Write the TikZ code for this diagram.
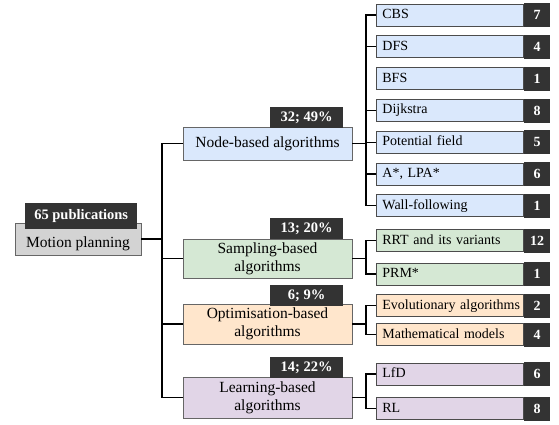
\documentclass[tikz,border=0pt]{standalone}
\usepackage{fontspec}
\setmainfont{Liberation Serif}
\usepackage{xcolor}
\usetikzlibrary{positioning}
\definecolor{nodefill}{HTML}{DAE8FC}
\definecolor{samplefill}{HTML}{D5E8D4}
\definecolor{optfill}{HTML}{FFE6CC}
\definecolor{learnfill}{HTML}{E1D5E7}
\definecolor{rootfill}{HTML}{D3D3D3}
\definecolor{tagfill}{HTML}{333333}

\begin{document}
\begin{tikzpicture}[x=1pt,y=-1pt,
  cat/.style={draw=black!60,line width=0.8pt,minimum width=169pt,minimum height=40pt,
    align=center,inner sep=0pt,font=\fontsize{15.5}{18}\selectfont},
  tag/.style={fill=tagfill,text=white,inner sep=0pt,minimum width=73pt,minimum height=21pt,
    font=\fontsize{14.5}{16}\selectfont\bfseries},
  leaf/.style={draw=black!70,line width=0.8pt,anchor=west,inner xsep=0pt,inner ysep=0pt,
    text width=147pt,minimum height=22pt,text height=10pt,text depth=3pt,align=left,
    execute at begin node={\hskip6pt},font=\fontsize{14}{16}\selectfont},
  num/.style={fill=tagfill,text=white,inner sep=0pt,minimum width=26pt,minimum height=24pt,
    anchor=south west,yshift=-1pt,font=\fontsize{14}{16}\selectfont\bfseries},
  link/.style={line width=1.3pt}]
\useasboundingbox (0,0) rectangle (559,424);

% root
\node[draw=black!60,line width=0.8pt,fill=rootfill,minimum width=126pt,minimum height=32pt,
  inner sep=0pt,text height=18pt,text depth=2pt,font=\fontsize{15.5}{18}\selectfont]
  (root) at (78,239) {Motion planning};
\node[tag,minimum width=112pt,minimum height=26pt,above left=-7pt and 4pt of root.north east]
  (roottag) {65 publications};

% categories
\node[cat,fill=nodefill,minimum height=33pt] (nb) at (267.5,143.5) {Node-based algorithms};
\node[cat,fill=samplefill,minimum height=39pt] (sb) at (267.5,258.5) {Sampling-based\\algorithms};
\node[cat,fill=optfill] (ob) at (267.5,324) {Optimisation-based\\algorithms};
\node[cat,fill=learnfill,minimum height=41pt] (lb) at (267.5,397.5) {Learning-based\\algorithms};
\node[tag,above left=-2pt and 9pt of nb.north east] (nbtag) {32; 49\%};
\node[tag,above left=-1pt and 9pt of sb.north east] (sbtag) {13; 20\%};
\node[tag,above left=-3pt and 9pt of ob.north east] (obtag) {6; 9\%};
\node[tag,above left=-2pt and 9pt of lb.north east] (lbtag) {14; 22\%};

% leaves
\foreach \name/\txt/\n [count=\i from 0] in
  {cbs/CBS/7, dfs/DFS/4, bfs/BFS/1, dijkstra/Dijkstra/8, pfield/Potential field/5,
   astar/{A*, LPA*}/6, wall/Wall-following/1}
{
  \node[leaf,fill=nodefill] (\name) at (376,{15+31.8*\i}) {\txt};
  \node[num] (\name-n) at (\name.south east) {\n};
}
\foreach \name/\txt/\n/\y/\col in
  {rrt/RRT and its variants/12/240.5/samplefill, prm/PRM*/1/274/samplefill,
   evo/Evolutionary algorithms/2/305.5/optfill, math/Mathematical models/4/334.5/optfill,
   lfd/LfD/6/374/learnfill, rl/RL/8/408.5/learnfill}
{
  \node[leaf,fill=\col] (\name) at (376,\y) {\txt};
  \node[num] (\name-n) at (\name.south east) {\n};
}

% connectors
\coordinate (trunk) at (162,0);
\coordinate (branch) at (366,0);
\foreach \c in {nb,sb,ob,lb}
  \draw[link] (root.east) -| (trunk |- \c.west) -- (\c.west);
\foreach \l in {cbs,dfs,dijkstra,pfield,astar,wall}
  \draw[link] (nb.east) -| (branch |- \l.west) -- (\l.west);
\foreach \p/\l in {sb/rrt,sb/prm,ob/evo,ob/math,lb/lfd,lb/rl}
  \draw[link] (\p.east) -| (branch |- \l.west) -- (\l.west);
\end{tikzpicture}
\end{document}
